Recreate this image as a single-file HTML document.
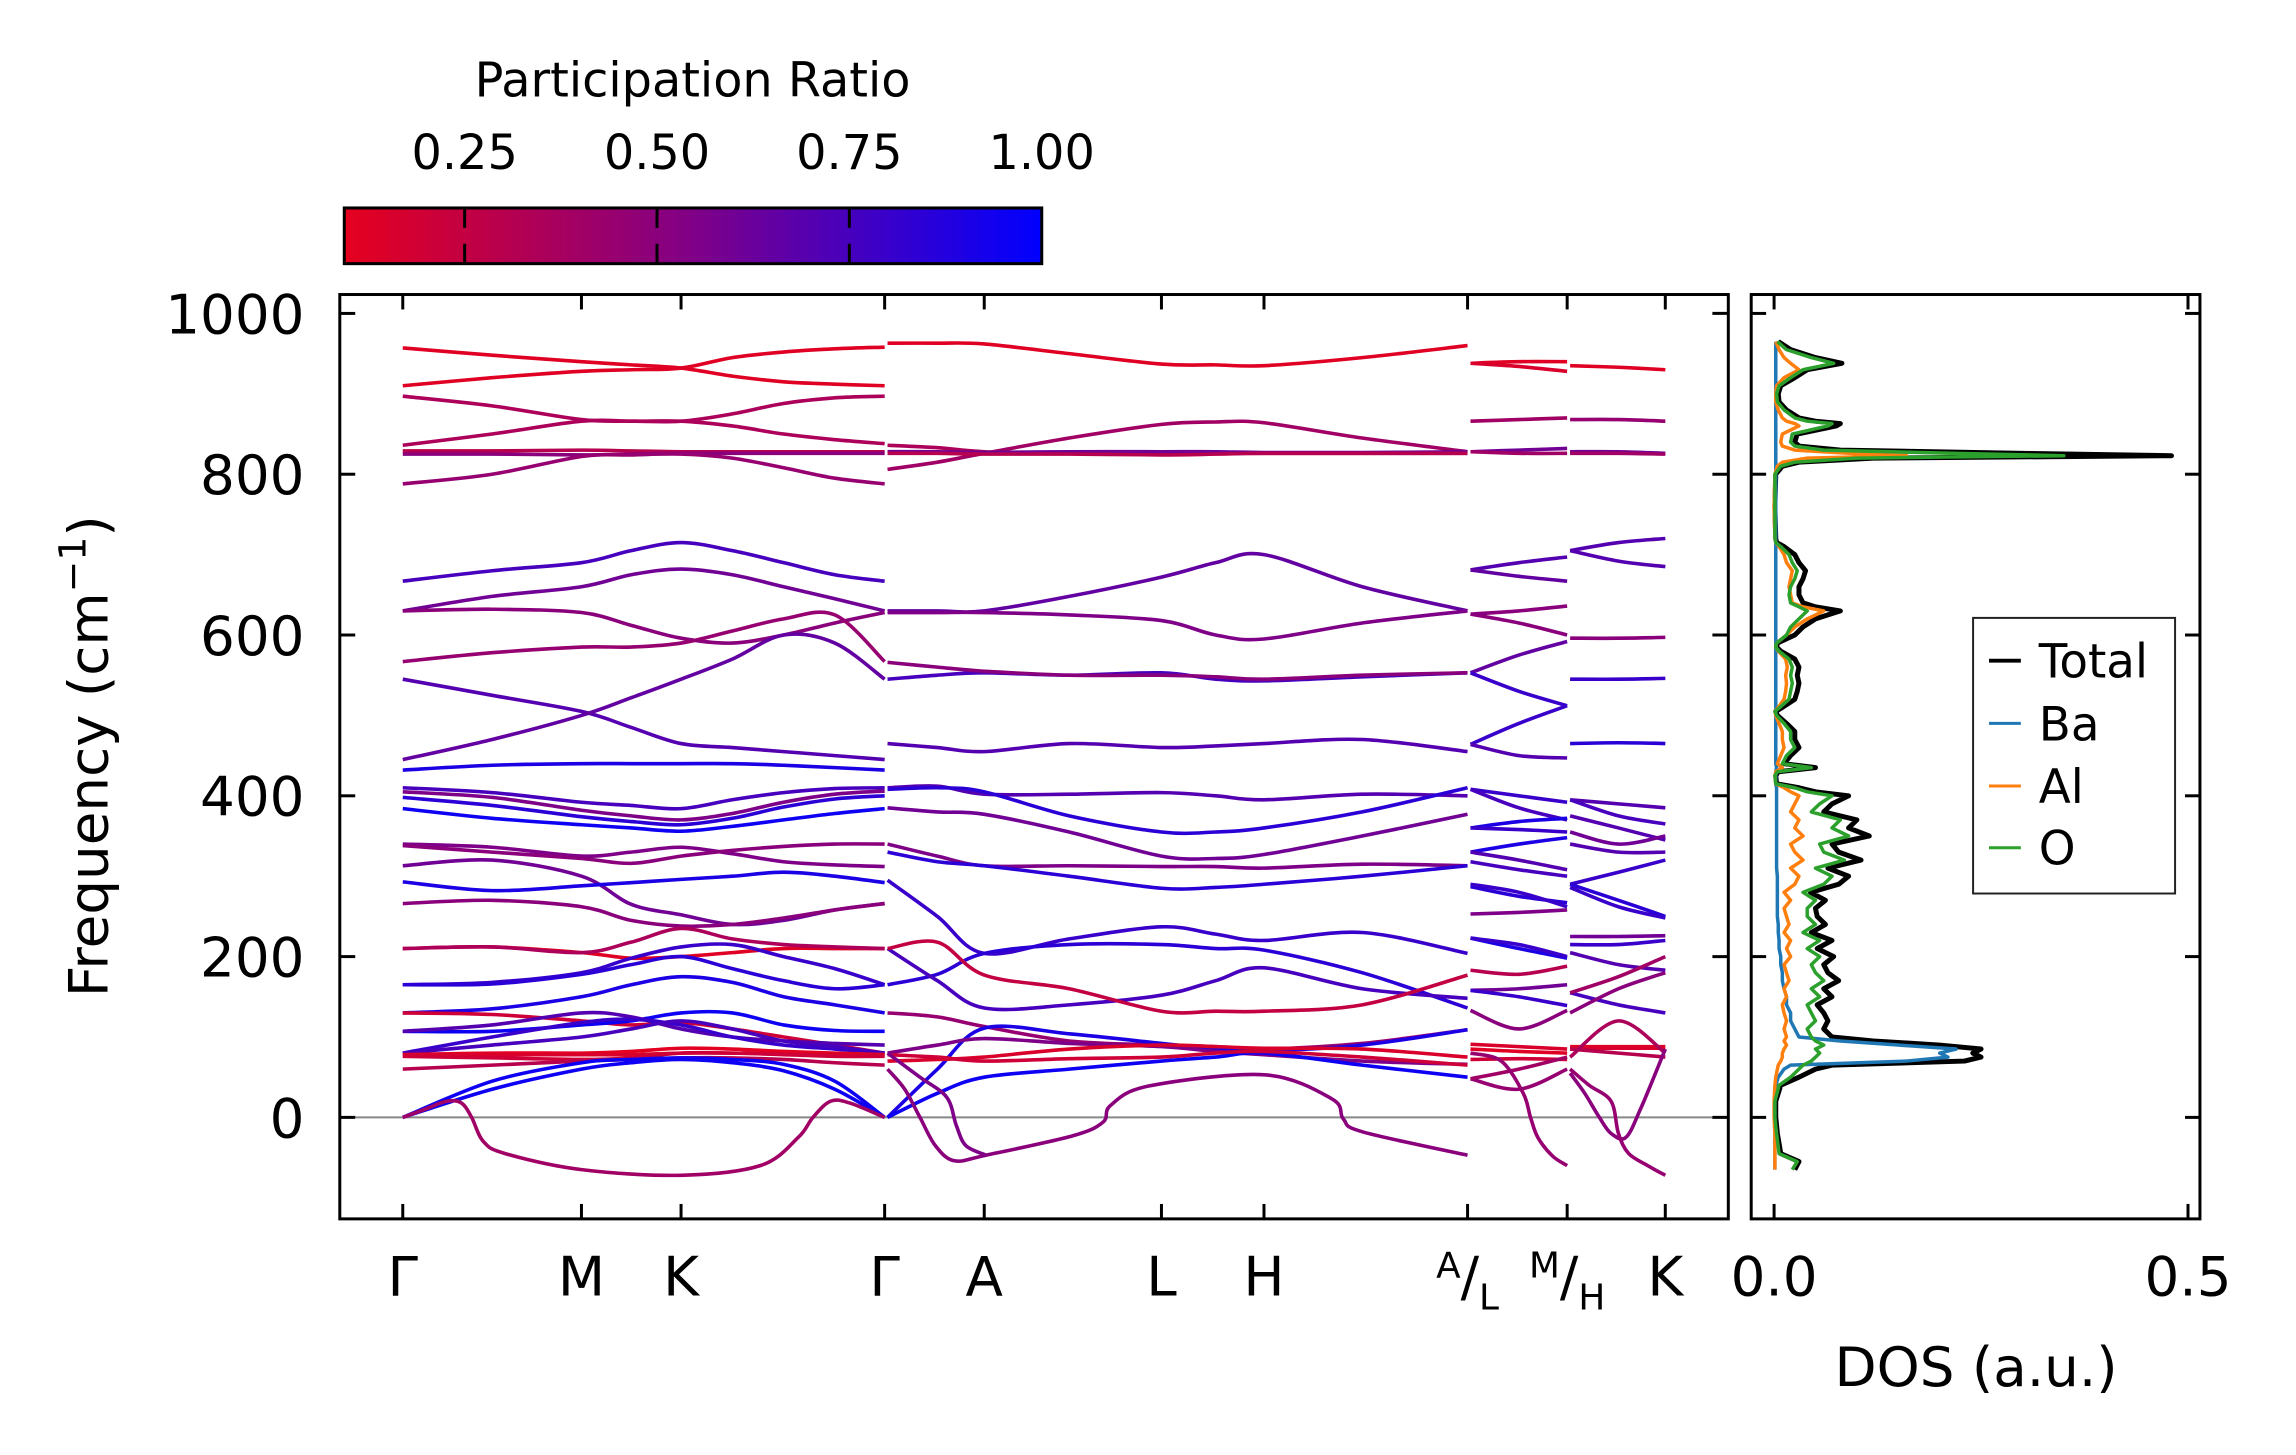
<!DOCTYPE html>
<html><head><meta charset="utf-8"><title>Phonon band structure and DOS</title>
<style>
html,body{margin:0;padding:0;background:#fff;}
svg{display:block;font-family:"DejaVu Sans","Liberation Sans",sans-serif;}
</style></head>
<body>
<svg id="fig" width="2296" height="1455" viewBox="0 0 2296 1455" xmlns="http://www.w3.org/2000/svg">
<defs>
<linearGradient id="cbgrad" x1="0" x2="1" y1="0" y2="0">
<stop offset="0" stop-color="rgb(230,0,30)"/>
<stop offset="0.5" stop-color="rgb(128,0,135)"/>
<stop offset="1" stop-color="rgb(0,0,255)"/>
</linearGradient>
<clipPath id="bandclip"><rect x="341.5" y="296" width="1395.5" height="929"/></clipPath>
<clipPath id="dosclip"><rect x="1760" y="296" width="451" height="929"/></clipPath>
</defs>
<rect x="0" y="0" width="2296" height="1455" fill="#fff"/>
<g transform="scale(0.995)">
<g>
<text x="696" y="97" font-size="48" text-anchor="middle">Participation Ratio</text>
<rect x="346" y="209" width="701" height="56" fill="url(#cbgrad)" stroke="#000" stroke-width="3"/>
<g id="cbticks"></g>
</g>

<g id="bandpanel">
<g id="bands" clip-path="url(#bandclip)"></g>
<rect x="341.5" y="296" width="1395.5" height="929" fill="none" stroke="#000" stroke-width="3"/>
<g id="bandaxes"></g>
<text transform="translate(108,760) rotate(-90)" font-size="55" text-anchor="middle">Frequency (cm<tspan dy="-22" font-size="38">−1</tspan><tspan dy="22">)</tspan></text>
</g>

<g id="dospanel">
<g id="dos" clip-path="url(#dosclip)"></g>
<rect x="1760" y="296" width="451" height="929" fill="none" stroke="#000" stroke-width="3"/>
<g id="dosaxes"></g>
<text x="1986" y="1393" font-size="55" text-anchor="middle">DOS (a.u.)</text>
<g>
<rect x="1983" y="621" width="203" height="277" fill="#fff" stroke="#222" stroke-width="2"/>
<line x1="1999" x2="2031" y1="664" y2="664" stroke="#000" stroke-width="4"/>
<text x="2049" y="681" font-size="47">Total</text>
<line x1="1999" x2="2031" y1="727" y2="727" stroke="#1f77b4" stroke-width="3"/>
<text x="2049" y="744" font-size="47">Ba</text>
<line x1="1999" x2="2031" y1="790" y2="790" stroke="#ff7f0e" stroke-width="3"/>
<text x="2049" y="807" font-size="47">Al</text>
<line x1="1999" x2="2031" y1="852" y2="852" stroke="#2ca02c" stroke-width="3"/>
<text x="2049" y="869" font-size="47">O</text>
</g>
</g>
</g>
</svg>
<script>
// ---------- data ----------
const kLabelPos = [275, 397, 465, 604, 672, 793, 863, 1002, 1070, 1137];
const kLabels = ["Γ","M","K","Γ","A","L","H","A|L","M|H","K"];
const yTicks = [0, 200, 400, 600, 800, 1000];
const cbTicks = [0.25, 0.5, 0.75, 1.0];
const cbTickLabels = ["0.25","0.50","0.75","1.00"];
const dosTicks = [0.0, 0.5];
const dosTickLabels = ["0.0","0.5"];

const seg1K = [275,336,397,431,465,500,535,570,604];
const seg1F = [
[957,948,940,936,932,922,915,912,910],[910,920,928,930,932,945,952,956,958],
[897,885,868,866,866,860,850,843,838],[836,850,866,866,866,875,888,895,897],
[829,829,830,829,828,828,828,828,828],[825,825,824,825,826,826,826,826,826],
[788,800,822,824,825,820,808,795,788],[667,680,690,705,715,705,690,675,667],
[630,648,660,675,682,675,660,645,630],[630,632,628,612,596,590,600,615,628],
[567,578,585,585,590,605,620,625,567],[545,525,505,485,465,460,455,450,445],
[445,470,500,522,545,570,600,590,545],[432,438,440,440,440,440,438,435,432],
[410,404,392,388,384,395,404,409,410],[405,398,382,375,370,378,392,402,406],
[398,388,374,368,364,372,386,396,400],[384,372,364,360,356,362,370,378,384],
[340,336,325,330,336,328,318,314,312],[338,330,322,316,325,332,337,340,340],
[313,320,300,265,252,240,245,258,266],[293,282,288,292,296,300,305,300,292],
[266,270,262,245,238,240,248,258,266],[210,212,205,198,200,205,210,210,210],
[210,212,205,218,235,222,215,212,210],[165,168,180,198,212,215,200,185,165],
[165,166,178,190,200,185,170,160,165],[130,135,150,165,175,168,150,140,130],
[130,128,120,115,118,110,100,90,80],[107,107,115,120,130,130,115,108,107],
[107,115,130,125,110,100,95,92,90],[80,100,118,122,115,100,90,85,80],
[80,90,100,110,120,110,95,88,80],[78,80,80,82,86,85,82,80,78],
[78,78,78,78,80,80,79,78,78],[76,74,72,74,80,80,78,76,76],
[60,65,70,72,74,74,72,68,65],[0,45,68,72,74,72,66,45,0],[0,35,60,68,72,68,58,35,0]
];
const seg1PR = [.12,.12,.35,.35,.3,.5,.45,.75,.6,.5,.45,.7,.65,.9,.75,.55,.85,.95,.55,.5,.6,.9,.5,.12,.35,.8,.85,.9,.2,.95,.7,.8,.75,.1,.15,.2,.3,.95,.95];

const seg2K = [606,640,672,730,793,830,863,930,1002];
const seg2F = [
[963,963,962,950,937,936,935,945,960],[806,815,826,845,862,865,864,845,828],
[836,833,828,826,826,826,826,826,826],[828,828,827,828,828,828,827,827,828],
[826,826,825,825,824,825,826,826,826],[630,630,630,648,672,690,700,660,630],
[628,628,628,625,618,600,595,615,630],[545,550,553,550,553,545,543,548,553],
[566,560,555,550,550,548,545,550,553],[465,460,455,465,460,462,465,470,455],
[410,412,402,402,404,400,395,402,400],[408,410,405,375,355,355,360,380,410],
[385,380,377,355,325,322,327,350,377],[340,325,313,313,312,312,310,315,313],
[330,318,313,300,285,286,290,300,313],[295,250,204,222,237,228,220,230,204],
[165,178,204,215,215,210,208,180,136],[210,170,136,140,152,170,186,160,148],
[210,218,177,160,132,132,132,140,177],[130,125,113,95,90,88,85,92,109],
[0,60,111,104,92,85,83,90,109],[80,90,98,92,88,82,78,70,66],
[0,30,50,60,70,75,80,65,50],[70,72,75,85,90,88,86,85,75],[78,75,70,73,75,80,82,75,65]
];
const seg2PR = [.12,.4,.35,.6,.3,.65,.55,.75,.5,.7,.7,.85,.6,.55,.85,.8,.85,.75,.25,.45,.9,.55,.95,.15,.2];

const seg3K = [1004,1037,1070];
const seg3F = [
[938,940,940],[938,934,928],[866,868,870],[828,830,832],[828,826,826],
[681,690,697],[681,673,667],[626,630,636],[626,615,600],[553,575,592],
[553,530,512],[464,490,512],[464,450,447],[408,400,392],[408,385,370],
[360,368,372],[360,358,355],[330,340,348],[330,320,308],[318,308,300],
[287,275,267],[290,280,262],[253,255,258],[223,210,198],[223,215,200],
[183,178,188],[158,160,165],[158,150,139],[133,110,133],[91,88,85],
[85,82,80],[72,73,72],[48,35,60],[48,60,75]
];
const seg3PR = [.12,.15,.4,.6,.4,.7,.65,.5,.5,.65,.8,.8,.7,.8,.75,.9,.8,.9,.7,.75,.85,.8,.55,.9,.8,.3,.6,.8,.5,.15,.12,.2,.45,.4];

const seg4K = [1072,1105,1137];
const seg4F = [
[935,933,930],[868,868,866],[828,828,826],[826,826,825],[705,715,720],
[705,692,685],[596,596,597],[545,545,546],[465,466,465],[395,390,385],
[395,375,365],[375,360,345],[355,340,350],[340,330,330],[290,305,320],
[290,270,250],[286,262,248],[225,225,226],[215,215,220],[205,190,183],
[155,140,130],[155,175,200],[130,160,180],[88,88,88],[86,86,86],
[85,80,75],[75,120,80]
];
const seg4PR = [.12,.45,.6,.4,.7,.7,.5,.8,.85,.7,.75,.7,.6,.7,.8,.85,.8,.6,.8,.7,.75,.4,.5,.12,.15,.3,.35];

const negK1 = [275,290,305,315,322,330,345,397,465,519,545,555,567,580,604];
const negF1 = [0,10,20,18,0,-30,-45,-65,-72,-60,-25,0,20,18,0];
const negK2 = [606,617.7,628.1,638.6,651.6,673.2,732.3,753.1,758.3,784.3,863.3,909.4,917.2,930.2,1002];
const negF2 = [60,35,0,-35,-54,-47,-23,-6,15,39,53,23,-2,-18,-47];
const negK3 = [606,628.1,646.4,652.9,659.4,673.2];
const negF3 = [80,50,25,-10,-35,-47];
const negK4 = [1004,1025,1040,1045,1050,1060,1070];
const negF4 = [80,70,30,0,-25,-48,-60];
const negK5 = [1072,1082,1092,1100,1110,1120,1137];
const negF5 = [55,30,0,-20,-25,10,85];
const negK6 = [1072,1085,1100,1105,1112,1125,1137];
const negF6 = [60,40,20,-20,-45,-60,-72];
const negPR = [.4,.5,.55,.45,.5,.45];

const dosFreq = [-65,-55,-45,-20,0,20,40,50,60,65,
70,75,80,85,90,95,100,110,120,130,
140,150,160,170,180,190,200,210,220,230,
240,250,260,270,280,290,300,310,320,330,
340,350,360,370,380,390,400,405,410,415,
425,430,435,440,450,460,470,480,490,500,
505,510,520,530,540,550,560,570,580,585,
590,600,610,620,630,635,640,650,660,670,
680,690,700,710,715,720,760,800,810,815,
820,823,826,830,835,840,850,860,863,866,
870,880,890,900,910,920,930,938,945,955,965];
const dosTotal = [.025,.03,.008,.004,.002,.002,.008,.03,.05,.07,
.23,.25,.24,.25,.2,.12,.07,.06,.065,.06,
.052,.07,.06,.078,.065,.06,.072,.052,.07,.045,
.062,.052,.05,.062,.044,.078,.09,.065,.105,.078,
.07,.115,.09,.1,.06,.07,.09,.05,.03,.003,
.002,.005,.05,.012,.02,.03,.025,.025,.015,.004,
.002,.01,.025,.028,.03,.028,.03,.025,.008,.003,
.004,.025,.035,.05,.08,.05,.035,.03,.03,.035,
.038,.03,.025,.012,.003,.002,.001,.002,.01,.03,
.12,.48,.3,.08,.03,.025,.028,.075,.08,.05,
.03,.015,.006,.005,.008,.025,.04,.082,.05,.02,.005];
const dosO = [.022,.028,.006,.003,.001,.001,.006,.02,.03,.035,
.045,.05,.055,.05,.06,.05,.045,.04,.05,.045,
.04,.055,.045,.06,.05,.045,.055,.04,.055,.035,
.05,.04,.04,.05,.035,.06,.07,.05,.085,.06,
.055,.09,.07,.08,.045,.055,.07,.04,.025,.002,
.001,.004,.045,.01,.015,.025,.02,.02,.012,.003,
.001,.007,.018,.02,.022,.02,.022,.018,.006,.002,
.003,.015,.02,.03,.04,.03,.02,.018,.02,.025,
.028,.022,.018,.008,.002,.001,.001,.001,.008,.025,
.1,.35,.22,.06,.025,.02,.022,.065,.07,.04,
.025,.012,.004,.003,.006,.02,.035,.072,.045,.015,.004];
const dosAl = [.001,.001,.001,.001,0,0,.001,.002,.004,.005,
.008,.01,.01,.012,.015,.012,.015,.012,.015,.012,
.01,.015,.012,.018,.015,.012,.02,.015,.02,.012,
.018,.015,.012,.02,.012,.025,.03,.02,.035,.025,
.02,.035,.025,.03,.02,.025,.03,.02,.012,.002,
.001,.002,.01,.004,.008,.012,.01,.01,.006,.002,
.001,.005,.012,.014,.015,.014,.016,.014,.005,.002,
.003,.015,.025,.04,.06,.035,.022,.02,.018,.02,
.022,.015,.012,.006,.002,.001,0,.001,.004,.01,
.04,.16,.09,.025,.01,.008,.01,.03,.025,.015,
.01,.005,.002,.002,.003,.012,.03,.02,.012,.006,.002];
const dosBa = [.001,.001,.001,.001,.001,.001,.002,.005,.012,.02,
.16,.21,.2,.22,.15,.08,.03,.025,.02,.02,
.015,.015,.012,.01,.01,.008,.008,.006,.006,.005,
.005,.004,.004,.004,.004,.004,.004,.003,.003,.003,
.003,.003,.003,.003,.003,.003,.003,.003,.003,.002,
.002,.002,.003,.002,.002,.002,.002,.002,.002,.002,
.002,.002,.002,.002,.002,.002,.002,.002,.002,.002,
.002,.002,.002,.002,.002,.002,.002,.002,.002,.002,
.002,.002,.002,.002,.002,.002,.002,.002,.002,.002,
.002,.002,.002,.002,.002,.002,.002,.002,.002,.002,
.002,.002,.002,.002,.002,.002,.002,.002,.002,.002,.002];

// ---------- scales ----------
const NS = "http://www.w3.org/2000/svg";
function xK(k){ return 341.5 + (k - 232) * 1.472; }
function yF(f){ return 1123 - f * 0.808; }
function xD(d){ return 1783 + d * 832; }
function xCB(p){ return 467 + (p - 0.25) / 0.25 * 193.3; }
function prColor(p){
  const u = Math.max(0, Math.min(1, (p - 0.093) / 0.907));
  let r, b;
  if (u < 0.5){ r = 230 + (128-230)*(u/0.5); b = 30 + (135-30)*(u/0.5); }
  else { r = 128*(1-(u-0.5)/0.5); b = 135 + (255-135)*((u-0.5)/0.5); }
  return "rgb(" + Math.round(r) + ",0," + Math.round(b) + ")";
}
function smoothPath(xs, ys){
  let d = "M" + xs[0].toFixed(1) + "," + ys[0].toFixed(1);
  for (let i = 0; i < xs.length - 1; i++){
    const x0 = xs[Math.max(0,i-1)], y0 = ys[Math.max(0,i-1)];
    const x1 = xs[i], y1 = ys[i], x2 = xs[i+1], y2 = ys[i+1];
    const x3 = xs[Math.min(xs.length-1,i+2)], y3 = ys[Math.min(xs.length-1,i+2)];
    const c1x = x1 + (x2 - x0)/6, c1y = y1 + (y2 - y0)/6;
    const c2x = x2 - (x3 - x1)/6, c2y = y2 - (y3 - y1)/6;
    d += " C" + c1x.toFixed(1)+","+c1y.toFixed(1)+" "+c2x.toFixed(1)+","+c2y.toFixed(1)+" "+x2.toFixed(1)+","+y2.toFixed(1);
  }
  return d;
}
function mk(tag, attrs, parent){
  const el = document.createElementNS(NS, tag);
  for (const k in attrs) el.setAttribute(k, attrs[k]);
  parent.appendChild(el);
  return el;
}

// ---------- bands ----------
const bandsG = document.getElementById("bands");
const zl = mk("line", {x1:341.5, x2:1737, y1:yF(0), y2:yF(0), stroke:"#888", "stroke-width":2}, bandsG);


function drawBand(kArr, fArr, pr, idx){
  const xs = kArr.map(xK), ys = fArr.map(yF);
  const p = mk("path", {d: smoothPath(xs, ys), fill:"none", stroke: prColor(pr), "stroke-width": 3.6, "stroke-linecap":"butt"}, bandsG);
  
  
}
let bi = 0;
seg1F.forEach((f,i)=>drawBand(seg1K, f, seg1PR[i], bi++));
seg2F.forEach((f,i)=>drawBand(seg2K, f, seg2PR[i], bi++));
seg3F.forEach((f,i)=>drawBand(seg3K, f, seg3PR[i], bi++));
seg4F.forEach((f,i)=>drawBand(seg4K, f, seg4PR[i], bi++));
[[negK1,negF1],[negK2,negF2],[negK3,negF3],[negK4,negF4],[negK5,negF5],[negK6,negF6]].forEach((b,i)=>drawBand(b[0], b[1], negPR[i], bi++));

// ---------- band axes ----------
const ax = document.getElementById("bandaxes");
yTicks.forEach(t=>{
  const y = yF(t);
  const a = mk("line", {x1:341.5, x2:357, y1:y, y2:y, stroke:"#000", "stroke-width":3}, ax);
  
  
  const b = mk("line", {x1:1721, x2:1737, y1:y, y2:y, stroke:"#000", "stroke-width":3}, ax);
  
  
  const tx = mk("text", {x:306, y:y+20, "font-size":55, "text-anchor":"end"}, ax);
  tx.textContent = String(t);
  
  
});
kLabelPos.forEach((k,i)=>{
  const x = xK(k);
  const a = mk("line", {x1:x, x2:x, y1:296, y2:311, stroke:"#000", "stroke-width":3}, ax);
  
  
  const b = mk("line", {x1:x, x2:x, y1:1210, y2:1225, stroke:"#000", "stroke-width":3}, ax);
  
  
  const lab = kLabels[i];
  const tx = mk("text", {x:x, y:1302, "font-size":55, "text-anchor":"middle"}, ax);
  
  
  if (lab.indexOf("|") >= 0){
    const parts = lab.split("|");
    const s1 = mk("tspan", {"font-size":36, dy:-18}, tx); s1.textContent = parts[0];
    const s2 = mk("tspan", {"font-size":55, dy:18}, tx); s2.textContent = "/";
    const s3 = mk("tspan", {"font-size":36, dy:14}, tx); s3.textContent = parts[1];
  } else {
    tx.textContent = lab;
  }
});

// ---------- colorbar ticks ----------
const cbg = document.getElementById("cbticks");
cbTicks.forEach((t,i)=>{
  const x = xCB(t);
  if (t < 1){
    const a = mk("line", {x1:x, x2:x, y1:209, y2:229, stroke:"#000", "stroke-width":3}, cbg);
    
    
    const b = mk("line", {x1:x, x2:x, y1:245, y2:265, stroke:"#000", "stroke-width":3}, cbg);
    
    
  }
  const tx = mk("text", {x:x, y:170, "font-size":48, "text-anchor":"middle"}, cbg);
  tx.textContent = cbTickLabels[i];
  
  
});

// ---------- DOS ----------
const dg = document.getElementById("dos");
function drawDos(vals, color, w, name){
  const xs = vals.map(xD), ys = dosFreq.map(yF);
  let d = "M" + xs[0].toFixed(1) + "," + ys[0].toFixed(1);
  for (let i = 1; i < xs.length; i++) d += " L" + xs[i].toFixed(1) + "," + ys[i].toFixed(1);
  const p = mk("path", {d:d, fill:"none", stroke:color, "stroke-width":w, "stroke-linejoin":"round"}, dg);
  
  
}
drawDos(dosTotal, "#000", 5, "dos-total-line");
drawDos(dosBa, "#1f77b4", 3.5, "dos-ba-line");
drawDos(dosAl, "#ff7f0e", 3.5, "dos-al-line");
drawDos(dosO, "#2ca02c", 3.5, "dos-o-line");

const dax = document.getElementById("dosaxes");
yTicks.forEach(t=>{
  const y = yF(t);
  const a = mk("line", {x1:1760, x2:1775, y1:y, y2:y, stroke:"#000", "stroke-width":3}, dax);
  
  
  const b = mk("line", {x1:2196, x2:2211, y1:y, y2:y, stroke:"#000", "stroke-width":3}, dax);
  
  
});
dosTicks.forEach((t,i)=>{
  const x = xD(t);
  const a = mk("line", {x1:x, x2:x, y1:296, y2:311, stroke:"#000", "stroke-width":3}, dax);
  
  
  const b = mk("line", {x1:x, x2:x, y1:1210, y2:1225, stroke:"#000", "stroke-width":3}, dax);
  
  
  const tx = mk("text", {x:x, y:1302, "font-size":55, "text-anchor":"middle"}, dax);
  tx.textContent = dosTickLabels[i];
  
  
});
</script>
</body></html>
